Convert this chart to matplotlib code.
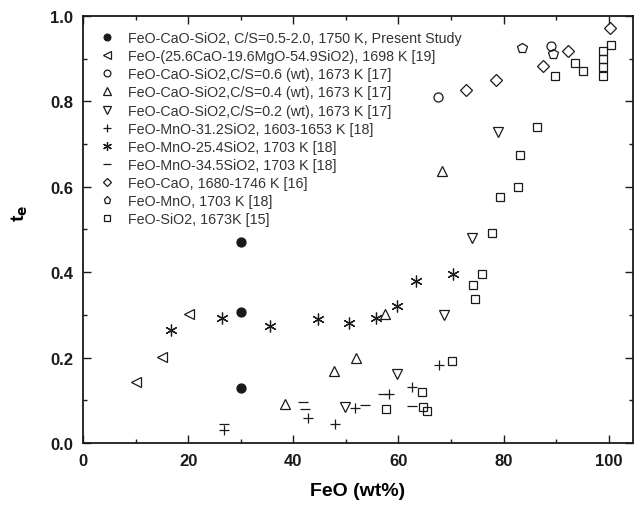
import matplotlib
matplotlib.use("Agg")
import matplotlib.pyplot as plt
from matplotlib.ticker import MultipleLocator

plt.rcParams["font.family"] = ["Liberation Sans", "DejaVu Sans"]

# FeO (wt%) and t_e for each data set
present_x = [30.0, 30.0, 30.0]
present_y = [0.471, 0.306, 0.128]

mgo_x = [10.1, 15.1, 20.2]
mgo_y = [0.142, 0.202, 0.302]

cs06_x = [67.6, 89.1]
cs06_y = [0.810, 0.930]

cs04_x = [38.4, 47.7, 52.0, 57.4, 68.2]
cs04_y = [0.091, 0.169, 0.200, 0.302, 0.638]

cs02_x = [49.8, 59.8, 68.6, 74.0, 79.0]
cs02_y = [0.084, 0.162, 0.300, 0.479, 0.728]

mn312_x = [26.9, 42.7, 47.9, 51.7, 58.2, 62.5, 67.7]
mn312_y = [0.030, 0.059, 0.044, 0.081, 0.115, 0.132, 0.183]

mn254_x = [16.7, 26.4, 35.5, 44.7, 50.6, 55.8, 59.8, 63.4, 70.3]
mn254_y = [0.265, 0.292, 0.273, 0.290, 0.280, 0.293, 0.322, 0.380, 0.396]

mn345_x = [26.9, 41.8, 42.2, 53.6, 62.5, 57.0]
mn345_y = [0.045, 0.095, 0.080, 0.089, 0.087, 0.115]

cao_x = [72.9, 78.5, 87.5, 92.2, 100.2]
cao_y = [0.827, 0.850, 0.884, 0.918, 0.973]

mno_x = [83.4, 89.4]
mno_y = [0.924, 0.911]

sio2_x = [57.7, 64.5, 64.6, 65.5, 70.1, 74.5, 74.2, 75.8, 77.7, 79.3, 82.8, 83.1,
          86.3, 89.7, 93.5, 95.1, 98.9, 98.9, 98.9, 98.9, 100.4]
sio2_y = [0.080, 0.120, 0.085, 0.075, 0.193, 0.337, 0.370, 0.396, 0.492, 0.575, 0.599, 0.674,
          0.739, 0.860, 0.891, 0.872, 0.919, 0.899, 0.880, 0.860, 0.931]

labels = [
    "FeO-CaO-SiO2, C/S=0.5-2.0, 1750 K, Present Study",
    "FeO-(25.6CaO-19.6MgO-54.9SiO2), 1698 K [19]",
    "FeO-CaO-SiO2,C/S=0.6 (wt), 1673 K [17]",
    "FeO-CaO-SiO2,C/S=0.4 (wt), 1673 K [17]",
    "FeO-CaO-SiO2,C/S=0.2 (wt), 1673 K [17]",
    "FeO-MnO-31.2SiO2, 1603-1653 K [18]",
    "FeO-MnO-25.4SiO2, 1703 K [18]",
    "FeO-MnO-34.5SiO2, 1703 K [18]",
    "FeO-CaO, 1680-1746 K [16]",
    "FeO-MnO, 1703 K [18]",
    "FeO-SiO2, 1673K [15]",
]

series = [
    (present_x, present_y, "o", 6.5, True),
    (mgo_x, mgo_y, "<", 7, False),
    (cs06_x, cs06_y, "o", 6.5, False),
    (cs04_x, cs04_y, "^", 7, False),
    (cs02_x, cs02_y, "v", 7, False),
    (mn312_x, mn312_y, "+", 7.5, False),
    (mn254_x, mn254_y, (6, 2, 0), 8.5, False),
    (mn345_x, mn345_y, "_", 7.5, False),
    (cao_x, cao_y, "D", 6, False),
    (mno_x, mno_y, "p", 7, False),
    (sio2_x, sio2_y, "s", 6, False),
]

ink = "#1a1a1a"

fig = plt.figure(figsize=(6.36, 5.06), dpi=100)
ax = fig.add_axes([83 / 636, 62 / 506, 550 / 636, 427 / 506])

for (xs, ys, mk, ms, filled), lab in zip(series, labels):
    ax.plot(xs, ys, linestyle="none", marker=mk, markersize=ms,
            markerfacecolor=ink if filled else "none",
            markeredgecolor=ink, markeredgewidth=0.9, label=lab)

ax.set_xlim(0, 104.6)
ax.set_ylim(0, 1.0)
ax.xaxis.set_major_locator(MultipleLocator(20))
ax.xaxis.set_minor_locator(MultipleLocator(10))
ax.yaxis.set_major_locator(MultipleLocator(0.2))
ax.yaxis.set_minor_locator(MultipleLocator(0.1))
ax.yaxis.set_major_formatter(lambda v, p: f"{v:.1f}")
ax.tick_params(which="both", direction="in", top=True, right=True, width=1.0, colors=ink)
ax.tick_params(which="major", length=6, labelsize=12, pad=7)
ax.tick_params(which="minor", length=3)
for t in ax.get_xticklabels() + ax.get_yticklabels():
    t.set_fontweight("bold")
for s in ax.spines.values():
    s.set_linewidth(1.3)
    s.set_color(ink)

ax.set_xlabel("FeO (wt%)", fontsize=14, fontweight="bold", labelpad=10)
ax.set_ylabel("t$_\\mathbf{e}$", fontsize=14, fontweight="bold")
ax.yaxis.set_label_coords(-0.097, 0.54)

ax.legend(loc="upper left", bbox_to_anchor=(0.015, 0.985), frameon=False,
          fontsize=10.3, handlelength=1.0, handletextpad=1.0, labelspacing=0.29,
          markerscale=0.75, labelcolor="#333333", borderaxespad=0.2)

fig.savefig("out.png", dpi=100)
